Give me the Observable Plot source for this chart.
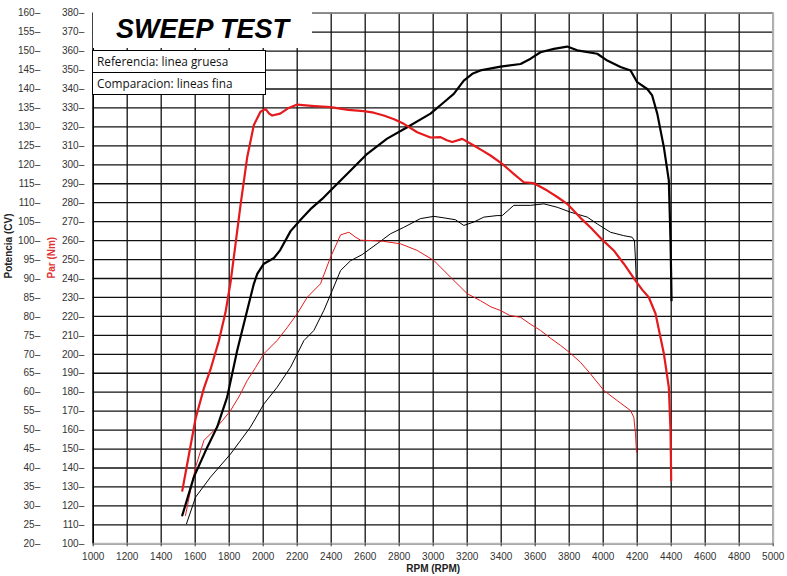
<!DOCTYPE html>
<html>
<head>
<meta charset="utf-8">
<script src="https://cdn.jsdelivr.net/npm/d3@7"></script>
<script src="https://cdn.jsdelivr.net/npm/@observablehq/plot@0.6"></script>
<style>
  body { margin: 0; background: #fff; }
  #wrap { position: relative; width: 787px; height: 576px; }
  #title {
    position: absolute; left: 93px; top: 12px; width: 219px; height: 36px;
    background: #fff; text-align: center;
    font: italic bold 27px/34px "Liberation Sans", Arial, sans-serif; color: #000;
  }
  #legend {
    position: absolute; left: 92px; top: 50px; width: 174px; box-sizing: border-box;
    border: 1px solid #000; background: #fff;
    font: 11.8px "Open Sans", "Noto Sans", sans-serif; color: #111;
  }
  #legend div { height: 21px; line-height: 21px; padding-left: 4px; white-space: nowrap; }
  #legend div:first-child { border-bottom: 1px solid #000; }
</style>
</head>
<body>
<div id="wrap">
  <div id="chart"></div>
  <div id="title"></div>
  <div id="legend"></div>
</div>
<script>
// ---- texts ----
const titleText = "SWEEP TEST";
const legendLines = ["Referencia: linea gruesa", "Comparacion: lineas fina"];
const xLabel = "RPM (RPM)";
const yLabelPower = "Potencia (CV)";
const yLabelTorque = "Par (Nm)";

// ---- ticks ----
const rpmTicks = [1000,1200,1400,1600,1800,2000,2200,2400,2600,2800,3000,3200,3400,3600,3800,4000,4200,4400,4600,4800,5000];
const torqueTicks = [100,110,120,130,140,150,160,170,180,190,200,210,220,230,240,250,260,270,280,290,300,310,320,330,340,350,360,370,380];
const powerTicks = [20,25,30,35,40,45,50,55,60,65,70,75,80,85,90,95,100,105,110,115,120,125,130,135,140,145,150,155,160];

// ---- series: [rpm, value] ----
// Reference torque (Nm) - thick red
const refTorque = [[1524,128],[1563,147],[1602,166],[1651,182],[1690,192],[1739,207],[1778,222],[1808,238],[1837,258],[1867,279],[1906,304],[1945,321],[1984,328],[2014,329.5],[2035,327],[2053,326],[2100,327],[2150,330],[2200,331.8],[2300,331],[2396,330.4],[2500,329],[2592,328.3],[2650,327.5],[2709,326],[2770,324],[2827,321.6],[2906,317.2],[2984,314.4],[3043,314.6],[3080,313],[3112,312],[3171,313.7],[3239,310.2],[3290,307.5],[3337,304.9],[3406,300.5],[3470,295.5],[3533,290.8],[3592,290.3],[3671,286.4],[3730,283],[3788,279.4],[3866,272],[3930,266.5],[3994,260.5],[4062,254.8],[4121,247.8],[4190,238.9],[4230,234],[4268,230.1],[4308,221.4],[4357,200.3],[4386,182.6],[4396,159.8],[4400,133.4]];
// Reference power (CV) - thick black
const refPower = [[1524,27.5],[1592,37.6],[1671,45.5],[1729,50.8],[1788,58.7],[1847,71],[1906,81.6],[1945,88.6],[1965,91.2],[2004,93.9],[2063,95.4],[2100,97.5],[2161,102.5],[2220,105.5],[2278,108.3],[2347,111],[2396,113.2],[2514,118.5],[2612,122.9],[2729,126.9],[2847,129.9],[2984,133.5],[3063,136.5],[3121,138.7],[3180,142.2],[3230,144],[3278,144.9],[3396,145.9],[3514,146.6],[3573,148],[3631,149.7],[3710,150.6],[3788,151.2],[3847,150.2],[3965,149.3],[4024,147.5],[4102,145.8],[4161,144.9],[4200,141.8],[4259,140],[4288,138.3],[4318,133.5],[4357,124.6],[4386,115.9],[4396,100],[4400,90],[4402,84.2]];
// Comparison torque (Nm) - thin red
const cmpTorque = [[1543,115],[1572,128],[1602,140.4],[1651,154.5],[1710,159.8],[1760,165],[1808,170.3],[1860,178],[1906,186.2],[1955,193],[2004,200.3],[2082,207.3],[2140,214],[2200,221.4],[2259,230.1],[2337,237.2],[2396,251.2],[2455,263],[2504,264.4],[2540,262],[2573,260.2],[2650,260],[2709,259.6],[2808,258.3],[2906,254.8],[3004,249.5],[3102,240.7],[3200,232],[3278,228.3],[3340,225],[3396,223.1],[3450,220.5],[3514,219.5],[3570,216],[3631,212.6],[3690,208.5],[3749,204.7],[3808,200.5],[3866,195.8],[3925,189.7],[4004,180.9],[4082,175.6],[4161,170.3],[4180,166.8],[4190,158],[4196,148.3]];
// Comparison power (CV) - thin black
const cmpPower = [[1549,25.3],[1602,32.3],[1690,37.6],[1808,43.7],[1925,50.8],[2004,56.9],[2082,61.3],[2161,66.6],[2239,73.6],[2298,76.3],[2357,81.6],[2406,86.8],[2455,92.1],[2514,94.7],[2582,96.3],[2671,99.2],[2749,101.8],[2827,103.5],[2925,105.8],[3004,106.4],[3063,106],[3131,105.5],[3180,104],[3239,104.9],[3298,106.2],[3376,106.6],[3406,106.6],[3474,109.3],[3573,109.3],[3651,109.7],[3729,108.8],[3808,107.5],[3906,106.2],[3965,104.4],[4043,102.2],[4121,101.3],[4170,100.9],[4184,100],[4190,94.7],[4194,90.3]];

// power axis (CV) shares the torque scale: Nm = 100 + (CV - 20) * 2
const cvToNm = cv => 100 + (cv - 20) * 2;

const RED = "#e41a1c";

document.getElementById("title").textContent = titleText;
document.getElementById("legend").innerHTML = legendLines.map(t => `<div>${t}</div>`).join("");

const chart = Plot.plot({
  width: 787,
  height: 576,
  marginLeft: 92.7,
  marginRight: 14.3,
  marginTop: 12.7,
  marginBottom: 32.7,
  style: { background: "#fff", fontFamily: "Arial, 'Liberation Sans', sans-serif" },
  x: { domain: [1000, 5000], label: null },
  y: { domain: [100, 380], axis: null },
  marks: [
    Plot.ruleX(rpmTicks, { stroke: "#111", strokeWidth: 1.3 }),
    Plot.ruleY(torqueTicks, { stroke: "#111", strokeWidth: 1.3 }),
    Plot.ruleX([5000], { stroke: "#b5b5b5", strokeWidth: 2 }),
    Plot.ruleY([100], { stroke: "#b5b5b5", strokeWidth: 2 }),
    Plot.ruleY([380], { stroke: "#9a9a9a", strokeWidth: 1.3 }),
    Plot.ruleX([1000], { stroke: "#000", strokeWidth: 1.5 }),
    Plot.axisX(rpmTicks, { tickSize: 3, tickPadding: 6, fontSize: 10, label: null, tickFormat: d => String(d), color: "#333" }),
    Plot.text(torqueTicks, { y: d => d, text: d => d + "–", frameAnchor: "left", textAnchor: "end", dx: -9, fontSize: 10, fill: "#333" }),
    Plot.text(powerTicks, { y: d => cvToNm(d), text: d => d + "–", frameAnchor: "left", textAnchor: "end", dx: -53, fontSize: 10, fill: "#333" }),
    Plot.text([yLabelPower], { text: d => d, frameAnchor: "left", dx: -84, rotate: -90, fontWeight: "bold", fontSize: 10, fill: "#222" }),
    Plot.text([yLabelTorque], { text: d => d, frameAnchor: "left", dx: -41, rotate: -90, fontWeight: "bold", fontSize: 10, fill: "#e03333" }),
    Plot.text([xLabel], { text: d => d, frameAnchor: "bottom", dy: 28, fontWeight: "bold", fontSize: 10, fill: "#222" }),
    Plot.line(cmpPower, { x: d => d[0], y: d => cvToNm(d[1]), stroke: "#000", strokeWidth: 1 }),
    Plot.line(cmpTorque, { x: d => d[0], y: d => d[1], stroke: RED, strokeWidth: 1 }),
    Plot.line(refPower, { x: d => d[0], y: d => cvToNm(d[1]), stroke: "#000", strokeWidth: 2.2 }),
    Plot.line(refTorque, { x: d => d[0], y: d => d[1], stroke: RED, strokeWidth: 2.2 })
  ]
});
document.getElementById("chart").appendChild(chart);
</script>
</body>
</html>
